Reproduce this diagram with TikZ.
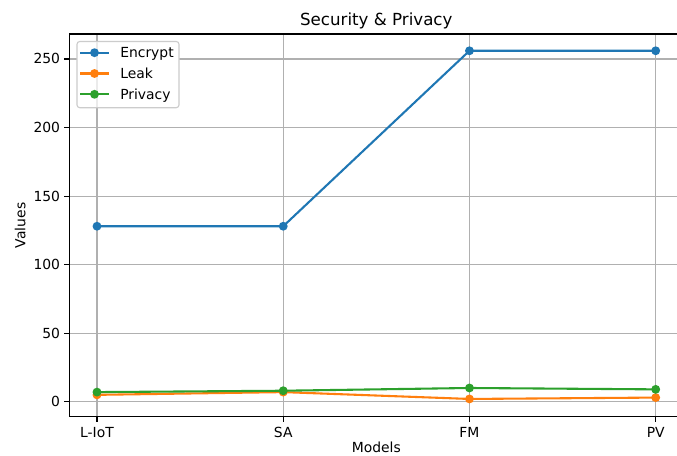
\documentclass[tikz,border=0pt]{standalone}
\usepackage{fontspec}
\setmainfont{DejaVu Sans}
\definecolor{cone}{HTML}{1F77B4}
\definecolor{ctwo}{HTML}{FF7F0E}
\definecolor{cthree}{HTML}{2CA02C}
\definecolor{gridc}{HTML}{B0B0B0}
\definecolor{legc}{HTML}{CCCCCC}
\tikzset{
  gridline/.style={draw=gridc, line width=0.8pt},
  spine/.style={draw=black, line width=0.8pt},
  tickmark/.style={draw=black, line width=0.8pt},
  series/.style={line width=1.5pt, line join=round},
  ticklab/.style={inner sep=0pt, font=\fontsize{10}{12}\selectfont},
}
\begin{document}
\begin{tikzpicture}[x=0.72pt,y=-0.72pt]
\useasboundingbox (0,0) rectangle (677,456);
\fill[white] (0,0) rectangle (677,456);
% grid
\foreach \i in {0,1,2,3} {
  \draw[gridline] ({97+186.23*\i},34) -- ({97+186.23*\i},416.7);
}
\foreach \v in {0,50,100,150,200,250} {
  \draw[gridline] (69.1,{401.7-1.3708*\v}) -- (677,{401.7-1.3708*\v});
}
% data
\begin{scope}[shift={(97,401.7)}, x=134.086pt, y=0.98698pt]
  \coordinate (e0) at (0,128); \coordinate (e1) at (1,128);
  \coordinate (e2) at (2,256); \coordinate (e3) at (3,256);
  \coordinate (l0) at (0,5); \coordinate (l1) at (1,7);
  \coordinate (l2) at (2,2); \coordinate (l3) at (3,3);
  \coordinate (p0) at (0,7); \coordinate (p1) at (1,8);
  \coordinate (p2) at (2,10); \coordinate (p3) at (3,9);
\end{scope}
\draw[series, cone] (e0) -- (e1) -- (e2) -- (e3);
\foreach \n in {e0,e1,e2,e3} \fill[cone] (\n) circle (3.2pt);
\draw[series, ctwo] (l0) -- (l1) -- (l2) -- (l3);
\foreach \n in {l0,l1,l2,l3} \fill[ctwo] (\n) circle (3.2pt);
\draw[series, cthree] (p0) -- (p1) -- (p2) -- (p3);
\foreach \n in {p0,p1,p2,p3} \fill[cthree] (\n) circle (3.2pt);
% spines
\draw[spine] (677,34) -- (69.1,34) -- (69.1,416.7) -- (677,416.7);
% y ticks
\foreach \v in {0,50,100,150,200,250} {
  \draw[tickmark] (69.1,{401.7-1.3708*\v}) -- (64.2,{401.7-1.3708*\v});
  \node[ticklab, anchor=base east] at (60.3,{401.7-1.3708*\v+5}) {\v};
}
% x ticks
\foreach \i/\t in {0/L-IoT,1/SA,2/FM,3/PV} {
  \draw[tickmark] ({97+186.23*\i},416.7) -- ({97+186.23*\i},421.6);
  \node[ticklab, anchor=base] at ({97+186.23*\i},437.2) {\t};
}
% labels
\node[ticklab, anchor=base] (xl) at (376.3,452.5) {Models};
\node[ticklab, anchor=base, rotate=90] (yl) at (25.3,225.4) {Values};
\node[inner sep=0pt, anchor=base, font=\fontsize{12}{14}\selectfont] (title) at (376.3,25.7) {Security \& Privacy};
% legend
\draw[draw=legc, fill=white, line width=0.8pt, rounded corners=2pt] (77,41.5) rectangle (179,107.7);
\draw[draw=gridc!25!white, line width=0.8pt] (97,42) -- (97,107.2);
\foreach \yy/\c/\t [count=\k] in {52.7/cone/Encrypt,73.5/ctwo/Leak,94.3/cthree/Privacy} {
  \coordinate (la\k) at (80,\yy);
  \coordinate (lb\k) at (109,\yy);
  \draw[series, \c] (la\k) -- (lb\k);
  \fill[\c] (94.5,\yy) circle (3.2pt);
  \node[ticklab, anchor=base west] (lt\k) at (120,\yy+5) {\t};
}
\end{tikzpicture}
\end{document}
